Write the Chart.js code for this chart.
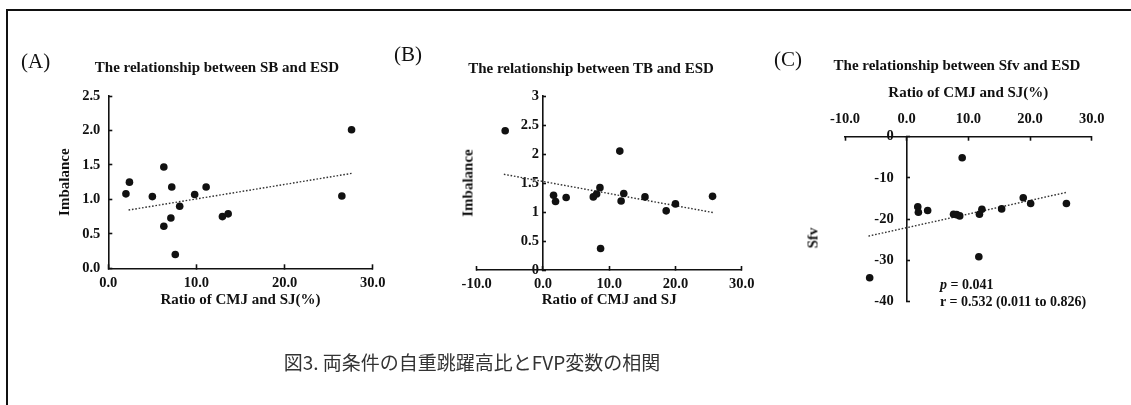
<!DOCTYPE html>
<html>
<head>
<meta charset="utf-8">
<script src="https://cdn.jsdelivr.net/npm/chart.js@4.4.1/dist/chart.umd.min.js"></script>
<style>
  html, body { margin: 0; padding: 0; background: #fff; }
  #wrap { position: relative; width: 1131px; height: 405px; overflow: hidden; background: #fff; }
  #wrap canvas { position: absolute; left: 0; top: 0; }
  .frame { position: absolute; left: 6px; top: 9px; width: 1300px; height: 600px;
           border-left: 2px solid #111; border-top: 2px solid #111; }
  .t { position: absolute; white-space: nowrap; color: #111;
       font-family: "Liberation Serif", "Times New Roman", serif; line-height: 1; }
  .panel { font-size: 21px; transform: translateY(-50%); }
  .head { font-size: 15px; font-weight: bold; transform: translate(-50%, -50%); }
  .ytitle { font-size: 15px; font-weight: bold; transform: translate(-50%, -50%) rotate(-90deg); }
  .note { font-size: 14px; font-weight: bold; transform: translateY(-50%); }
  .caption { font-family: "Noto Sans CJK JP", sans-serif; font-size: 19px; color: #333;
             transform: translate(-50%, -50%); }
</style>
</head>
<body>
<div id="wrap">
  <div class="frame"></div>
  <canvas id="chartA" width="1131" height="405"></canvas>
  <canvas id="chartB" width="1131" height="405"></canvas>
  <canvas id="chartC" width="1131" height="405"></canvas>

  <div class="t panel" style="left:21px; top:61px;">(A)</div>
  <div class="t head" style="left:217px; top:67px;">The relationship between SB and ESD</div>

  <div class="t panel" style="left:394px; top:54px;">(B)</div>
  <div class="t head" style="left:591px; top:68px;">The relationship between TB and ESD</div>
  <div class="t ytitle" style="left:468px; top:183px;">Imbalance</div>

  <div class="t panel" style="left:774px; top:59px;">(C)</div>
  <div class="t head" style="left:957px; top:65px;">The relationship between Sfv and ESD</div>
  <div class="t ytitle" style="left:813px; top:238px;">Sfv</div>
  <div class="t note" style="left:940px; top:285px;"><i>p</i> = 0.041</div>
  <div class="t note" style="left:940px; top:302px;">r = 0.532 (0.011 to 0.826)</div>

  <div class="t caption" style="left:472px; top:361px;">図3. 両条件の自重跳躍高比とFVP変数の相関</div>
</div>

<script>
// ---- (A) SB vs ESD ----
const ratioA     = [2.0, 2.4, 5.0, 6.3, 6.3, 7.2, 7.1, 7.6, 8.1, 9.8, 11.1, 12.95, 13.6, 26.5, 27.6];
const imbalanceA = [1.08, 1.25, 1.04, 1.47, 0.61, 1.18, 0.73, 0.20, 0.90, 1.07, 1.18, 0.75, 0.79, 1.05, 2.01];
const trendAX    = [2.3, 27.6];
const trendAY    = [0.845, 1.377];
const ticksAX    = ['0.0', '10.0', '20.0', '30.0'];
const ticksAY    = ['0.0', '0.5', '1.0', '1.5', '2.0', '2.5'];

// ---- (B) TB vs ESD ----
const ratioB     = [-5.7, 1.6, 1.9, 3.5, 7.6, 8.1, 8.6, 8.7, 11.6, 11.8, 12.2, 15.4, 18.6, 20.0, 25.6];
const imbalanceB = [2.40, 1.29, 1.18, 1.25, 1.26, 1.31, 1.42, 0.37, 2.05, 1.19, 1.32, 1.26, 1.02, 1.14, 1.27];
const trendBX    = [-5.9, 25.7];
const trendBY    = [1.65, 0.99];
const ticksBX    = ['-10.0', '0.0', '10.0', '20.0', '30.0'];
const ticksBY    = ['0', '0.5', '1', '1.5', '2', '2.5', '3'];

// ---- (C) Sfv vs ESD ----
const ratioC     = [-6.0, 1.8, 1.9, 3.4, 7.6, 8.1, 8.6, 9.0, 11.7, 11.8, 12.2, 15.4, 18.9, 20.1, 25.9];
const sfvC       = [-34.2, -17.0, -18.3, -17.9, -18.8, -18.9, -19.2, -5.1, -29.1, -18.8, -17.6, -17.5, -14.8, -16.2, -16.2];
const trendCX    = [-6.2, 25.9];
const trendCY    = [-24.1, -13.5];
const ticksCX    = ['-10.0', '0.0', '10.0', '20.0', '30.0'];
const ticksCY    = ['-40', '-30', '-20', '-10', '0'];

const INK = '#111';
const SERIF = '"Liberation Serif", "Times New Roman", serif';

const zip = (xs, ys) => xs.map((x, i) => ({ x: x, y: ys[i] }));
const labelFrom = (labels) => (v) => {
  const hit = labels.find(l => Math.abs(parseFloat(l) - v) < 1e-6);
  return hit === undefined ? '' : hit;
};

// A vertical axis that crosses the plot at x = 0 puts its labels flush with the
// axis line; move them left by a fixed gap.
function shiftLabels(gap) {
  return s => {
    if (s.$shifted) return;
    s.$shifted = true;
    const orig = s._computeLabelItems;
    s._computeLabelItems = function (area) {
      const items = orig.call(this, area);
      items.forEach(it => {
        const tr = it.options.translation;
        it.options.translation = [tr[0] - gap, tr[1]];
      });
      return items;
    };
  };
}

function axis(labels, extra) {
  const base = {
    type: 'linear',
    border: { display: true, color: INK, width: 1.6 },
    grid: { display: true, drawOnChartArea: false, drawTicks: true,
            tickLength: -4, tickColor: INK, tickWidth: 1.6 },
    ticks: { color: INK, font: { family: SERIF, size: 14.5, weight: 'bold' },
             autoSkip: false, maxRotation: 0, padding: 10, callback: labelFrom(labels) },
    title: { display: false }
  };
  const out = Object.assign({}, base, extra);
  out.ticks = Object.assign({}, base.ticks, extra.ticks || {});
  return out;
}

function datasets(xs, ys, tx, ty) {
  return [
    { type: 'scatter', data: zip(xs, ys), backgroundColor: INK, borderColor: INK,
      pointRadius: 3.8, pointHoverRadius: 3.8, borderWidth: 0, clip: false },
    { type: 'line', data: zip(tx, ty), borderColor: '#333', borderWidth: 1.4,
      borderDash: [1.6, 1.8], pointRadius: 0, fill: false, clip: false }
  ];
}

function make(id, data, scales, padding) {
  return new Chart(document.getElementById(id), {
    data: { datasets: data },
    options: {
      responsive: false, animation: false, devicePixelRatio: 1,
      layout: { padding: padding },
      plugins: { legend: { display: false }, tooltip: { enabled: false } },
      events: [],
      scales: scales
    }
  });
}

const titleFont = { family: SERIF, size: 15, weight: 'bold' };
const noPad = { top: 0, bottom: 0 };

// (A): ordinary left / bottom axes
make('chartA', datasets(ratioA, imbalanceA, trendAX, trendAY), {
  x: axis(ticksAX, { min: 0, max: 30, position: 'bottom',
    ticks: { stepSize: 10, padding: 10 },
    title: { display: true, text: 'Ratio of CMJ and SJ(%)', color: INK, font: titleFont, padding: noPad },
    afterFit: s => { s.height = 40.7; } }),
  y: axis(ticksAY, { min: 0, max: 2.5, position: 'left',
    ticks: { stepSize: 0.5, padding: 12 },
    title: { display: true, text: 'Imbalance', color: INK, font: titleFont, padding: noPad },
    afterFit: s => { s.width = 52.3; } })
}, { left: 108.3 - 52.3, right: 1131 - 372.7, top: 96, bottom: 405 - 268.3 - 40.7 });

// (B): vertical axis crosses at x = 0
make('chartB', datasets(ratioB, imbalanceB, trendBX, trendBY), {
  x: axis(ticksBX, { min: -10, max: 30, position: 'bottom',
    ticks: { stepSize: 10, padding: 10 },
    title: { display: true, text: 'Ratio of CMJ and SJ', color: INK, font: titleFont, padding: noPad },
    afterFit: s => { s.height = 39; } }),
  y: axis(ticksBY, { min: 0, max: 3, position: { x: 0 },
    ticks: { stepSize: 0.5 },
    afterFit: shiftLabels(4) })
}, { left: 476.7, right: 1131 - 741.7, top: 96, bottom: 405 - 270 - 39 });

// (C): horizontal axis on top, vertical axis crosses at x = 0
make('chartC', datasets(ratioC, sfvC, trendCX, trendCY), {
  x: axis(ticksCX, { min: -10, max: 30, position: 'top',
    ticks: { stepSize: 10, padding: 12.7 },
    title: { display: true, text: 'Ratio of CMJ and SJ(%)', color: INK, font: titleFont, padding: noPad },
    afterFit: s => { s.height = 53; } }),
  y: axis(ticksCY, { min: -40, max: 0, position: { x: 0 },
    ticks: { stepSize: 10 },
    afterFit: shiftLabels(13) })
}, { left: 845, right: 1131 - 1091.7, top: 83.7, bottom: 405 - 301.7 });
</script>
</body>
</html>
